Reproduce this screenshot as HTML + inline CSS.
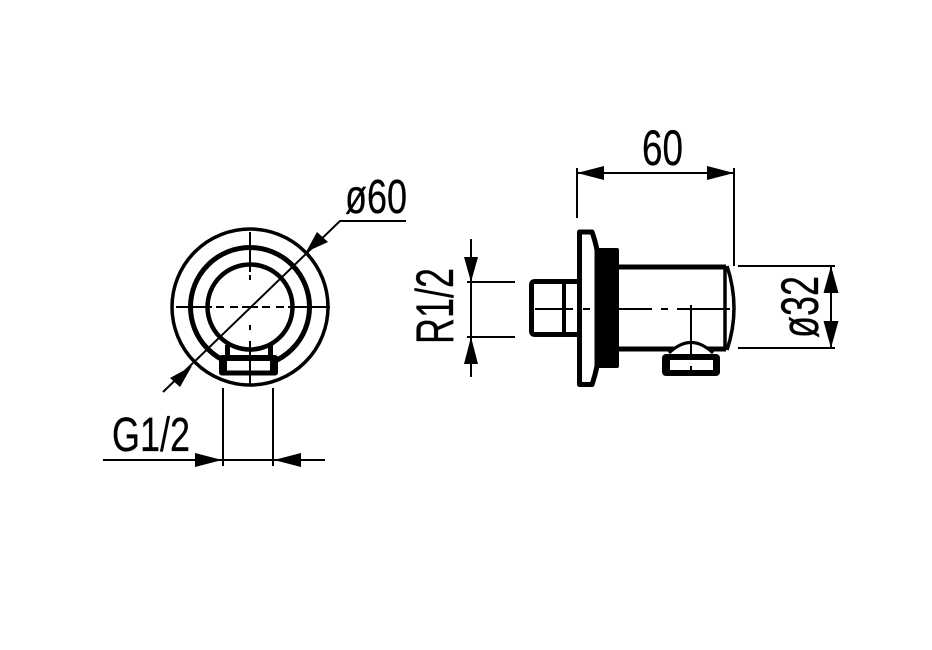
<!DOCTYPE html>
<html><head><meta charset="utf-8"><style>html,body{margin:0;padding:0;background:#fff}svg{display:block}text{font-family:"Liberation Sans",sans-serif;fill:#000;stroke:#000;stroke-width:.3px}</style></head><body>
<svg width="932" height="650" viewBox="0 0 932 650" xmlns="http://www.w3.org/2000/svg">
<rect width="932" height="650" fill="#fff"/>
<g fill="none" stroke="#000">
<circle cx="250" cy="307" r="78" stroke-width="3.5"/>
<circle cx="250" cy="307" r="59.5" stroke-width="5"/>
<circle cx="250" cy="307" r="42.5" stroke-width="4.5"/>
<g stroke-width="2">
<path d="M250 232V272M250 275V280M250 325V330M250 341V386"/>
<path d="M176 307H212M216 307H224M230 307H238M242 307H258M262 307H270M276 307H284M288 307H330"/>
<path d="M163 392L340 221H406"/>
<path d="M223 388V466M273 388V466M103 460H325"/>
</g>
</g>
<path d="M227.500 345V356M270.500 345V356" stroke="#000" stroke-width="5" fill="none"/>
<rect x="219" y="355" width="59" height="20.500" rx="3" fill="#000"/>
<rect x="227" y="361" width="43" height="9.500" fill="#fff"/>
<path d="M250 345V386" stroke="#000" stroke-width="2"/>
<g fill="#000">
<path d="M306 252L317 232L328 242Z"/>
<path d="M192 366L170 378L180 387Z"/>
<path d="M222 460L195 453V467Z"/>
<path d="M274 460L301 453V467Z"/>
</g>
<text x="345" y="213" font-size="48" textLength="62" lengthAdjust="spacingAndGlyphs">ø60</text>
<text x="112" y="451" font-size="48" textLength="78" lengthAdjust="spacingAndGlyphs">G1/2</text>
<g fill="none" stroke="#000" stroke-width="5" stroke-linejoin="round">
<path d="M579.500 232H592Q595 240 597 250V366Q595 376 592 384.500H579.500Z" fill="#fff"/>
<path d="M577 281.500H535Q531.500 281.500 531.500 285V331Q531.500 334.500 535 334.500H577" fill="#fff"/>
<path d="M564 281V336" stroke-width="4"/>
<path d="M619 267H726M619 349H726" stroke-width="5"/>
</g>
<rect x="596" y="248" width="23" height="120" rx="2" fill="#000"/>
<g fill="none" stroke="#000">
<path d="M725 267V349" stroke-width="3.500"/>
<path d="M727 266Q741 308 727 350" stroke-width="3.500"/>
<path d="M669 353Q691 332 713 353" stroke-width="3" fill="#fff"/>
<g stroke-width="2">
<path d="M535 309H573M583 309H590M619 309H652M661 309H668M677 309H730"/>
<path d="M691 305V354"/>
<path d="M577 168V218M734 168V266M577 173H734"/>
<path d="M738 266H835M738 348H835M831 266V348"/>
<path d="M471 239V377M467 282H515M467 337H515"/>
</g>
</g>
<rect x="662" y="354" width="58" height="22" rx="4" fill="#000"/>
<rect x="670" y="360" width="43" height="10" fill="#fff"/>
<path d="M691 366V370" stroke="#000" stroke-width="2"/>
<g fill="#000">
<path d="M577 173L604 166V180Z"/>
<path d="M734 173L707 166V180Z"/>
<path d="M831 266L823.500 293H838.500Z"/>
<path d="M831 348L823.500 321H838.500Z"/>
<path d="M471 282L464 257H478Z"/>
<path d="M471 337L464 364H478Z"/>
</g>
<text x="642" y="165" font-size="50" textLength="41" lengthAdjust="spacingAndGlyphs">60</text>
<text transform="translate(453 344) rotate(-90)" x="0" y="0" font-size="53" textLength="76" lengthAdjust="spacingAndGlyphs">R1/2</text>
<text transform="translate(818 338) rotate(-90)" x="0" y="0" font-size="53" textLength="62" lengthAdjust="spacingAndGlyphs">ø32</text>
</svg>
</body></html>
